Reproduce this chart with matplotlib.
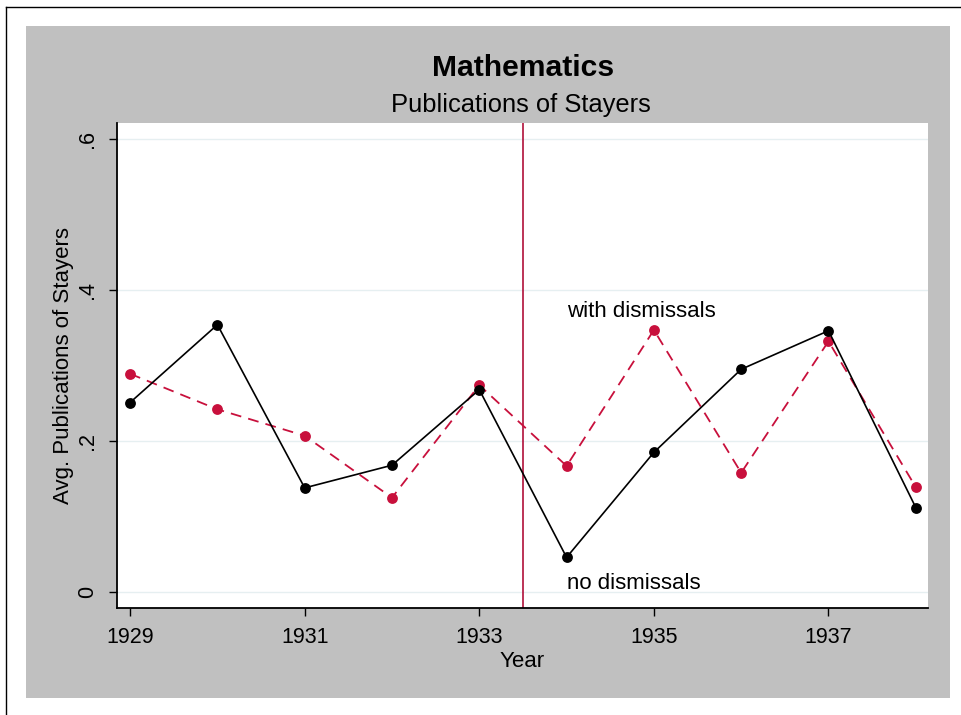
import numpy as np
import matplotlib
matplotlib.use("Agg")
import matplotlib.pyplot as plt
from matplotlib.patches import Rectangle
from matplotlib.lines import Line2D

## Données
years = [1929, 1930, 1931, 1932, 1933, 1934, 1935, 1936, 1937, 1938]
no_dismissals = [0.251, 0.354, 0.138, 0.168, 0.268, 0.046, 0.185, 0.295, 0.346, 0.112]
with_dismissals = [0.289, 0.242, 0.207, 0.125, 0.274, 0.167, 0.347, 0.158, 0.332, 0.139]
xticks = [1929, 1931, 1933, 1935, 1937]
yticks = [0, 0.2, 0.4, 0.6]
ytick_labels = ["0", ".2", ".4", ".6"]
cutoff = 1933.5

red = "#c8103c"
W, H = 961, 715

plt.rcParams["font.family"] = ["Liberation Sans", "DejaVu Sans"]

fig = plt.figure(figsize=(W / 100, H / 100), dpi=100, facecolor="white")

# fond gris + cadre extérieur
fig.patches.append(Rectangle((26 / W, 1 - 698 / H), (950 - 26) / W, (698 - 26) / H,
                             transform=fig.transFigure, facecolor="#c0c0c0",
                             edgecolor="none", zorder=-5))
fig.add_artist(Line2D([6 / W, 6 / W], [0, 1 - 7 / H], transform=fig.transFigure,
                      color="black", lw=1, zorder=-5))
fig.add_artist(Line2D([6 / W, 1], [1 - 7 / H, 1 - 7 / H], transform=fig.transFigure,
                      color="black", lw=1, zorder=-5))

ax = fig.add_axes([117 / W, 1 - 608 / H, (928 - 117) / W, (608 - 123) / H])
ax.set_facecolor("white")

ax.plot(years, with_dismissals, color=red, lw=1.3, ls=(0, (6, 4)), marker="o",
        markersize=7.8, markeredgewidth=0, zorder=3)
ax.plot(years, no_dismissals, color="black", lw=1.2, marker="o",
        markersize=7.8, markeredgewidth=0, zorder=4)
ax.axvline(cutoff, color="#b0103a", lw=1.2, zorder=2)

ax.text(1934, 0.372, "with dismissals", fontsize=16, va="center", ha="left")
ax.text(1934, 0.011, "no dismissals", fontsize=16, va="center", ha="left")

ax.set_xlim(1928.85, 1938.14)
ax.set_ylim(-0.021, 0.621)
ax.set_xticks(xticks)
ax.set_xticklabels([str(x) for x in xticks], fontsize=15.5)
ax.set_yticks(yticks)
ax.set_yticklabels(ytick_labels, fontsize=15.5, rotation=90, va="center")
ax.tick_params(axis="both", length=6, width=1, color="black")
ax.tick_params(axis="x", pad=8)
ax.tick_params(axis="y", pad=7.5)
ax.grid(axis="y", color="#e6eff1", lw=1)
ax.set_axisbelow(True)
for s in ["top", "right"]:
    ax.spines[s].set_visible(False)
for s in ["left", "bottom"]:
    ax.spines[s].set_linewidth(1.3)

ax.set_xlabel("Year", fontsize=16, labelpad=2)
ax.set_ylabel("Avg. Publications of Stayers", fontsize=16, labelpad=2)

fig.text(523 / W, 1 - 68 / H, "Mathematics", fontsize=21.7, fontweight="bold",
         ha="center", va="center")
fig.text(521 / W, 1 - 105 / H, "Publications of Stayers", fontsize=18.4,
         ha="center", va="center")

plt.savefig("out.png", dpi=100)
